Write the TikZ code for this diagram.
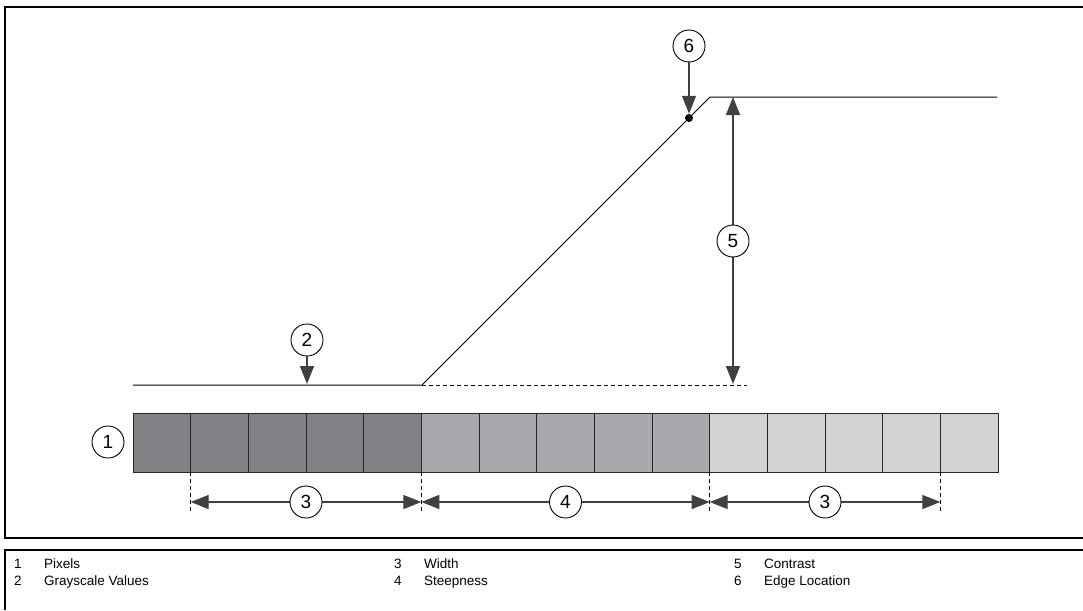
\documentclass[tikz,border=0pt]{standalone}
\usepackage{fontspec}
\setmainfont{Liberation Sans}
\usetikzlibrary{arrows.meta}
\definecolor{pxdark}{RGB}{128,130,133}
\definecolor{pxmid}{RGB}{167,169,172}
\definecolor{pxlight}{RGB}{209,211,212}
\definecolor{arrowgray}{RGB}{64,64,66}

\begin{document}
\begin{tikzpicture}[x=1pt, y=-1pt, >={Triangle[length=18pt,width=14pt]},
	num/.style={circle, draw, fill=white, line width=0.9pt, minimum size=32pt, inner sep=0pt, font=\fontsize{19}{19}\selectfont},
	pixel/.style={draw=black!85, line width=0.9pt},
	pointer/.style={->, line width=1.2pt, draw=arrowgray},
	dimline/.style={<->, line width=1.2pt, draw=arrowgray},
	guide/.style={dash pattern=on 4pt off 3pt, line width=0.8pt},
	legend/.style={anchor=base west, inner sep=0pt, font=\fontsize{13.5}{13.5}\selectfont}]
	\useasboundingbox (0,0) rectangle (1083,610);
	% frames of drawing and legend
	\draw[line width=2pt] (1083,7) -- (5,7) -- (5,538) -- (1083,538);
	\draw[line width=2pt] (1083,550) -- (5,550) -- (5,610);
	% row of pixels, 15 cells of 57.67
	\foreach \c/\s in {pxdark/0, pxmid/5, pxlight/10}
		\foreach \i in {0,...,4}
			\draw[pixel, fill=\c] ({133+(\s+\i)*57.67},413) rectangle +(57.67,59);
	\node[num] (c1) at (108,442) {1};
	% grayscale profile
	\coordinate (lowL) at (133,385);
	\coordinate (lowR) at (422,385);
	\coordinate (highL) at (710,97);
	\coordinate (highR) at (997,97);
	\draw[line width=1pt] (lowL) -- (lowR) -- (highL) -- (highR);
	\draw[guide] (lowR) -- (747,385);
	% edge location
	\node[circle, fill, inner sep=0pt, minimum size=8pt] (edge) at (689,118) {};
	\node[num] (c6) at (689,46) {6};
	\draw[pointer] (c6) -- (edge);
	% contrast
	\coordinate (ctop) at (733,97);
	\coordinate (cbot) at (733,384);
	\draw[dimline] (ctop) -- (cbot);
	\node[num] (c5) at (733,241) {5};
	% grayscale values
	\coordinate (gval) at (307,384);
	\node[num] (c2) at (307,340) {2};
	\draw[pointer] (c2) -- (gval);
	% width and steepness
	\foreach \x in {190.67, 421.33, 709.67, 940.33}
		\draw[guide] (\x,472) -- (\x,513);
	\coordinate (d0) at (190.67,502);
	\coordinate (d1) at (421.33,502);
	\coordinate (d2) at (709.67,502);
	\coordinate (d3) at (940.33,502);
	\draw[dimline] (d0) -- (d1);
	\draw[dimline] (d1) -- (d2);
	\draw[dimline] (d2) -- (d3);
	\node[num] (c3a) at (306,502) {3};
	\node[num] (c4) at (565.5,502) {4};
	\node[num] (c3b) at (825,502) {3};
	% legend
	\foreach \n/\t/\x/\y in {1/Pixels/14/568, 2/Grayscale Values/14/585, 3/Width/394/568, 4/Steepness/394/585, 5/Contrast/734/568, 6/Edge Location/734/585}{
		\node[legend] (n\n) at (\x,\y) {\n};
		\node[legend] (t\n) at (\x+30,\y) {\t};
	}
\end{tikzpicture}
\end{document}
